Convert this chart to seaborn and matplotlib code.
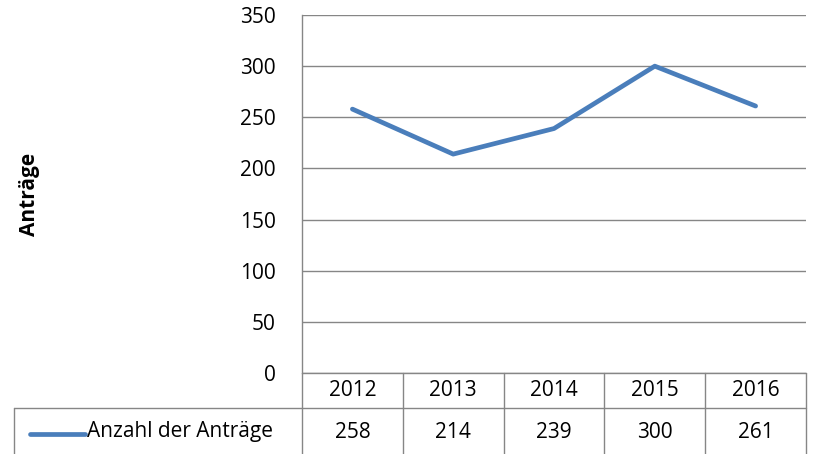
import matplotlib.pyplot as plt
import seaborn as sns
import pandas as pd
from matplotlib.lines import Line2D

# data
years = ['2012', '2013', '2014', '2015', '2016']
antraege = [258, 214, 239, 300, 261]
series_name = 'Anzahl der Anträge'
y_ticks = [0, 50, 100, 150, 200, 250, 300, 350]

df = pd.DataFrame({'Jahr': range(len(years)), 'Wert': antraege})

sns.set_style('white')
plt.rcParams['font.family'] = ['Open Sans', 'DejaVu Sans']
plt.rcParams['text.color'] = 'black'
plt.rcParams['ytick.color'] = 'black'

W, H = 813, 454
fig = plt.figure(figsize=(W / 100, H / 100), dpi=100)

# plot area in pixels
left, right, top, bottom = 302, 806, 15, 373
ax = fig.add_axes([left / W, 1 - bottom / H, (right - left) / W, (bottom - top) / H])

blue = '#4A7EBB'
grid = '#868686'
fs = 15

sns.lineplot(data=df, x='Jahr', y='Wert', ax=ax, color=blue, linewidth=3.4,
             solid_capstyle='round')

ax.set_xlim(-0.5, len(years) - 0.5)
ax.set_ylim(0, 350)
ax.set_yticks(y_ticks)
ax.set_yticklabels([str(t) for t in y_ticks], fontsize=fs)
ax.set_xticks([])
ax.set_xlabel('')
ax.set_ylabel('')
ax.tick_params(axis='y', length=0, pad=19)

ax.grid(axis='y', color=grid, linewidth=1.0)
ax.set_axisbelow(True)
for s in ['top', 'right', 'bottom']:
    ax.spines[s].set_visible(False)
ax.spines['left'].set_color(grid)
ax.spines['left'].set_linewidth(1.0)


# data table below the plot (figure pixel coords)
def px_line(x0, y0, x1, y1, **kw):
    fig.add_artist(Line2D([x0 / W, x1 / W], [1 - y0 / H, 1 - y1 / H],
                          transform=fig.transFigure, color=grid, linewidth=1.0, **kw))


row1_top, row1_bot, row2_bot = 373, 408, 454
table_left = 14
col_w = (right - left) / len(years)

px_line(left, row1_top, right, row1_top)
px_line(table_left, row1_bot, right, row1_bot)
px_line(table_left, row1_bot, table_left, row2_bot)
for i in range(len(years) + 1):
    x = left + i * col_w
    px_line(x, row1_top, x, row2_bot)

for i, (yr, v) in enumerate(zip(years, antraege)):
    cx = (left + (i + 0.5) * col_w) / W
    fig.text(cx, 1 - 391 / H, yr, ha='center', va='center', fontsize=fs)
    fig.text(cx, 1 - 433 / H, str(v), ha='center', va='center', fontsize=fs)

# legend key inside table
key_y = 1 - 434 / H
fig.add_artist(Line2D([30 / W, 85 / W], [key_y, key_y], transform=fig.transFigure,
                      color=blue, linewidth=3.4, solid_capstyle='round'))
fig.text(87 / W, 1 - 432 / H, series_name, ha='left', va='center', fontsize=fs)

# y-axis title
fig.text(30 / W, 1 - 194 / H, 'Anträge', rotation=90, ha='center', va='center',
         fontsize=fs, fontweight='bold')

fig.savefig('out.png', dpi=100)
